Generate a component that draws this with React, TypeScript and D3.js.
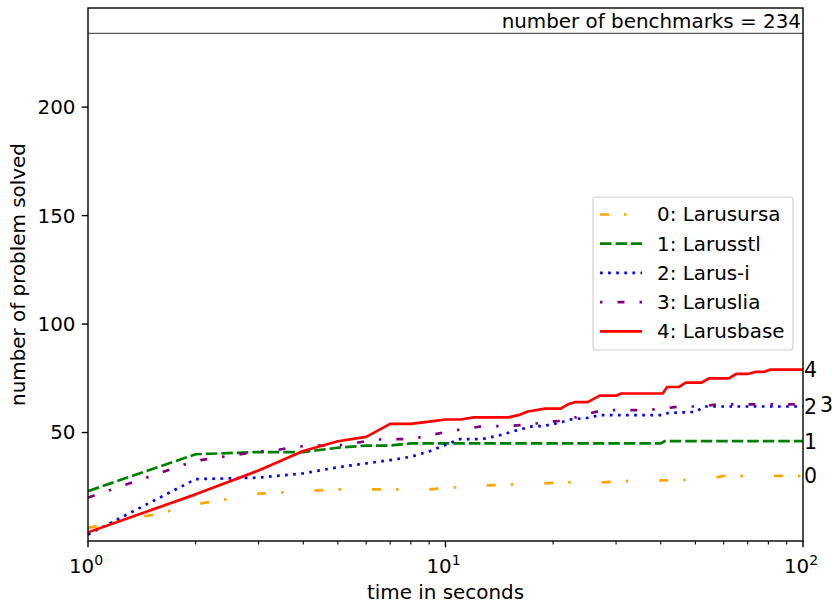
import React from "react";
import * as d3 from "d3";

// ---- data ----
const seriesNames = ["0: Larusursa", "1: Larusstl", "2: Larus-i", "3: Laruslia", "4: Larusbase"];
const endLabels = ["0", "1", "2", "3", "4"];
const colors = ["orange", "green", "blue", "purple", "red"];

const tOrange = [1, 1.5, 1.7, 2.1, 2.4, 3, 3.5, 4.4, 5, 9, 10.4, 13, 15, 18.8, 21, 27, 31, 38, 45, 50, 56, 60, 100];
const vOrange = [6, 12, 14, 17.5, 19, 21.8, 22.4, 23.3, 23.8, 23.8, 24.6, 25.6, 26, 26.5, 27, 27, 27.5, 27.9, 28, 28.5, 29, 30, 30];

const tGreen = [1, 2, 3, 4, 5, 6, 7, 8, 10, 20, 40, 41, 100];
const vGreen = [23, 40, 41, 41, 43, 44, 44, 45, 45, 45, 45, 46, 46];

const tBlue = [1, 2, 3, 4, 5, 6, 7, 8, 9, 10, 11, 12.7, 14.2, 15.8, 17.6, 18.8, 20.8, 22.3, 25, 27, 40.5, 42, 50, 53, 100];
const vBlue = [3, 28.5, 29.2, 31.2, 34, 35.8, 37.3, 38.8, 41.3, 44.3, 47, 47, 48.8, 51, 53, 53, 54.5, 56, 56.8, 58, 58, 59, 59.5, 62, 62];

const tPurple = [1, 2, 2.34, 3, 3.4, 3.8, 4.4, 5, 5.7, 6.3, 7, 8, 9.2, 10.4, 11.7, 12.8, 15, 17, 19.4, 21.8, 24, 27.6, 36, 40.5, 45, 52, 58, 100];
const vPurple = [20, 37, 38.6, 41.2, 42, 43.5, 44, 44, 45.4, 46.7, 47, 47, 49, 50.8, 52, 53, 53, 53.6, 55, 55.5, 58, 60.3, 60.3, 61, 62, 62, 63, 63];

const tRed = [1, 2, 3, 4, 5, 6, 7, 8, 9, 10, 11, 12, 15, 16, 17, 19, 21, 22, 23, 25, 27, 30, 31, 40.5, 41.7, 45, 47, 52, 54.7, 62, 65, 70, 74, 78, 81, 100];
const vRed = [4, 21.5, 32.5, 41.5, 46, 48, 54, 54, 55, 56, 56, 57, 57, 58, 59.7, 61, 61, 63, 64, 64, 67, 67, 68, 68, 71, 71, 73, 73, 75, 75, 77, 77, 78, 78, 79, 79];

const seriesT = [tOrange, tGreen, tBlue, tPurple, tRed];
const seriesV = [vOrange, vGreen, vBlue, vPurple, vRed];

const xTicks = [1, 10, 100];
const xTickExp = ["0", "1", "2"];
const yTicks = [50, 100, 150, 200];
const totalBenchmarks = 234;

// styles
const dashes = ["9,15,2.5,31", "11.5,4", "2.7,5.4", "7,15,2.5,15", ""];
const legendDashOffset = [0, 0, 0, 22, 0];

export default function App() {
  const W = 832, H = 606;
  const L = 88, R = 803, T = 8, B = 541;
  const x = d3.scaleLog().domain([1, 100]).range([L, R]);
  const y = d3.scaleLinear().domain([0, totalBenchmarks * 1.05]).range([B, T]);
  const font = "'DejaVu Sans', sans-serif";
  const fs = 19.9;
  const lw = 2.7;

  const line = d3.line<[number, number]>().x((d) => x(d[0])).y((d) => y(d[1]));

  const minorTicks: number[] = [];
  for (const dec of [1, 10]) for (let k = 2; k <= 9; k++) minorTicks.push(dec * k);

  // end labels with offset when overlapping
  const endPos = seriesV.map((v) => y(v[v.length - 1]));
  const endDx: number[] = endPos.map(() => 0);
  for (let i = 0; i < endPos.length; i++) {
    for (let j = 0; j < i; j++) {
      if (Math.abs(endPos[i] - endPos[j]) < 10 && endDx[i] === endDx[j]) endDx[i] = endDx[j] + 16;
    }
  }

  const legX = 593, legY = 197, legW = 200, legH = 153;
  const legRow = 29.2;

  return (
    <svg width={W} height={H} style={{ position: "absolute", left: 0, top: 0, background: "white" }} fontFamily={font}>
      <defs>
        <clipPath id="plotclip">
          <rect x={L} y={T} width={R - L} height={B - T} />
        </clipPath>
      </defs>
      <rect x={0} y={0} width={W} height={H} fill="white" />
      {/* total line */}
      <line x1={L} x2={R} y1={y(totalBenchmarks)} y2={y(totalBenchmarks)} stroke="#555" strokeWidth={1.2} />
      <text x={R - 2} y={28} fontSize={fs} textAnchor="end" fill="#000">number of benchmarks = {totalBenchmarks}</text>

      {/* series */}
      <g clipPath="url(#plotclip)">
        {seriesT.map((ts, i) => {
          const pts = ts.map((t, k) => [t, seriesV[i][k]] as [number, number]);
          return (
            <path key={i} d={line(pts) || ""} fill="none" stroke={colors[i]} strokeWidth={lw}
              strokeDasharray={dashes[i] || undefined} strokeLinejoin="round" strokeLinecap="butt" />
          );
        })}
      </g>

      {/* axes frame */}
      <rect x={L} y={T} width={R - L} height={B - T} fill="none" stroke="#000" strokeWidth={1.4} />

      {/* x ticks */}
      {xTicks.map((t, i) => (
        <g key={"xt" + i}>
          <line x1={x(t)} x2={x(t)} y1={B} y2={B + 6.3} stroke="#000" strokeWidth={1.4} />
          <text x={x(t) - 2} y={573} fontSize={fs} textAnchor="middle" fill="#000">
            10<tspan dy={-8.5} fontSize={14}>{xTickExp[i]}</tspan>
          </text>
        </g>
      ))}
      {minorTicks.map((t) => (
        <line key={"mt" + t} x1={x(t)} x2={x(t)} y1={B} y2={B + 3.6} stroke="#000" strokeWidth={1.1} />
      ))}
      {/* y ticks */}
      {yTicks.map((v) => (
        <g key={"yt" + v}>
          <line x1={L - 6.3} x2={L} y1={y(v)} y2={y(v)} stroke="#000" strokeWidth={1.4} />
          <text x={L - 12.5} y={y(v)} dy="0.35em" fontSize={fs} textAnchor="end" fill="#000">{v}</text>
        </g>
      ))}

      <text x={(L + R) / 2} y={599} fontSize={fs} textAnchor="middle" fill="#000">time in seconds</text>
      <text transform={`translate(25,${(T + B) / 2}) rotate(-90)`} fontSize={fs} textAnchor="middle" fill="#000">number of problem solved</text>

      {/* end labels */}
      {endLabels.map((lab, i) => (
        <text key={"el" + i} x={R + 1 + endDx[i]} y={endPos[i]} dy="0.36em" fontSize={20.5} fill="#000">{lab}</text>
      ))}

      {/* legend */}
      <rect x={legX} y={legY} width={legW} height={legH} rx={3} ry={3} fill="white" fillOpacity={0.8} stroke="#d0d0d0" strokeWidth={1.2} />
      {seriesNames.map((name, i) => {
        const cy = legY + 17.5 + i * legRow;
        return (
          <g key={"lg" + i}>
            <line x1={legX + 7} x2={legX + 49} y1={cy} y2={cy} stroke={colors[i]} strokeWidth={lw}
              strokeDasharray={dashes[i] || undefined} strokeDashoffset={legendDashOffset[i]} />
            <text x={legX + 64} y={cy} dy="0.35em" fontSize={fs} fill="#000">{name}</text>
          </g>
        );
      })}
    </svg>
  );
}
